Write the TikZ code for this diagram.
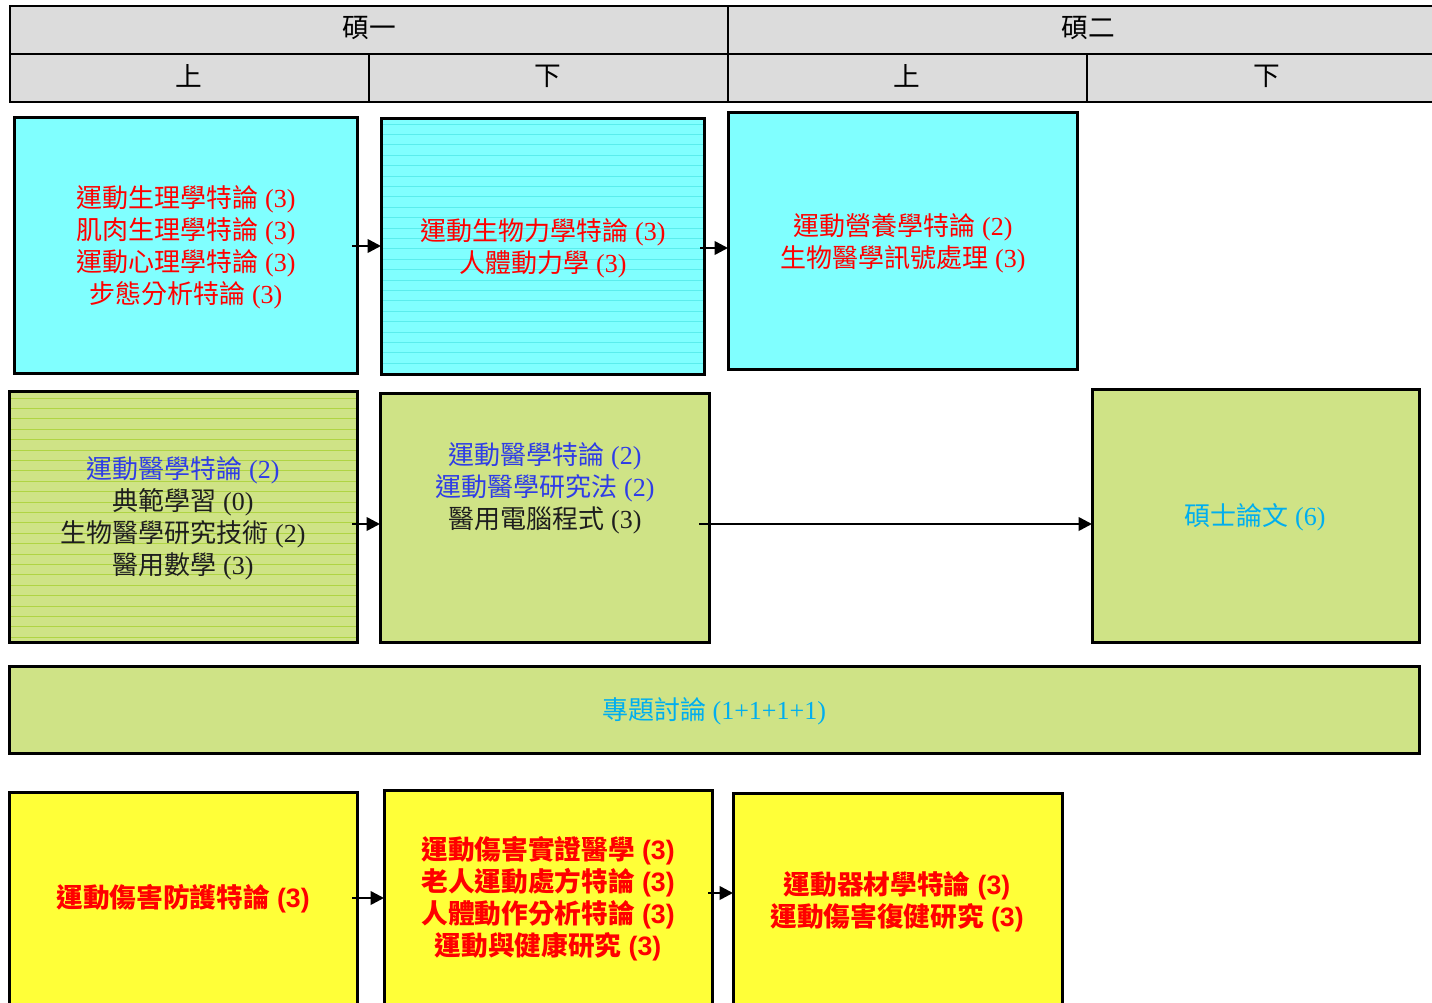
\documentclass[tikz,border=0pt]{standalone}
\usepackage{fontspec}
\setmainfont{Liberation Serif}
\newfontfamily\cjk{Noto Sans CJK TC}
\newfontfamily\lsans{Liberation Sans}
\usetikzlibrary{arrows.meta,fit}
\definecolor{hdr}{HTML}{DCDCDC}
\definecolor{cyanf}{HTML}{80FFFF}
\definecolor{cyanl}{HTML}{5AEDED}
\definecolor{greenf}{HTML}{CFE386}
\definecolor{greenl}{HTML}{B0D444}
\definecolor{yellf}{HTML}{FFFF38}
\definecolor{redt}{HTML}{FF0000}
\definecolor{bluet}{HTML}{2F3DE6}
\definecolor{blackt}{HTML}{1E1E1E}
\definecolor{cyant}{HTML}{00AEEF}
\begin{document}
\begin{tikzpicture}[x=0.75pt,y=-0.75pt,
  hcell/.style={draw, line width=1.5pt, fill=hdr, inner sep=0pt},
  htxt/.style={font=\fontsize{20}{24}\selectfont\cjk, text=black},
  box/.style={draw, line width=2.25pt, inner sep=0pt, outer sep=0pt},
  txt/.style={align=center, font=\fontsize{19.5}{24}\selectfont},
  btxt/.style={align=center, font=\fontsize{20}{24}\selectfont\lsans\bfseries, text=redt},
  arr/.style={line width=1.9pt, -{Triangle[length=10pt,width=10pt]}},
]
\useasboundingbox (0,0) rectangle (1432,1003);
\clip (0,0) rectangle (1432,1003);

% header
\node[hcell, fit={(10,6)(728,54)}] (h1) {};
\node[hcell, fit={(728,6)(1440,54)}] (h2) {};
\node[hcell, fit={(10,54)(369,102)}] (h11) {};
\node[hcell, fit={(369,54)(728,102)}] (h12) {};
\node[hcell, fit={(728,54)(1087,102)}] (h21) {};
\node[hcell, fit={(1087,54)(1440,102)}] (h22) {};
\node[htxt] (h1t) at (369,28) {碩一};
\node[htxt] (h2t) at (1088,28) {碩二};
\node[htxt] (h11t) at (189,76) {上};
\node[htxt] (h12t) at (548,76) {下};
\node[htxt] (h21t) at (907,76) {上};
\node[htxt] (h22t) at (1267,76) {下};

% cyan row
\node[box, fill=cyanf, fit={(14,117)(357,373)}] (a1) {};
\node[box, fill=cyanf, fit={(381,118)(704,374)}] (a2) {};
\begin{scope}
\clip (a2.south west) rectangle (a2.north east);
\foreach \yy in {124,134.4,...,372} \draw[cyanl, line width=0.6pt] (381,\yy) -- (704,\yy);
\end{scope}
\draw[line width=2.25pt] (a2.south west) rectangle (a2.north east);
\node[box, fill=cyanf, fit={(728,112)(1077,369)}] (a3) {};

\node[txt, text=redt] (a1t) at (186,247) {{\cjk 運動生理學特論} (3)\\{\cjk 肌肉生理學特論} (3)\\{\cjk 運動心理學特論} (3)\\{\cjk 步態分析特論} (3)};
\node[txt, text=redt] (a2t) at (543,248) {{\cjk 運動生物力學特論} (3)\\{\cjk 人體動力學} (3)};
\node[txt, text=redt] (a3t) at (903,243) {{\cjk 運動營養學特論} (2)\\{\cjk 生物醫學訊號處理} (3)};

% green row
\node[box, fill=greenf, fit={(9,391)(357,642)}] (b1) {};
\begin{scope}
\clip (b1.south west) rectangle (b1.north east);
\foreach \yy in {398,408.4,...,642} \draw[greenl, line width=0.6pt] (9,\yy) -- (357,\yy);
\end{scope}
\draw[line width=2.25pt] (b1.south west) rectangle (b1.north east);
\node[box, fill=greenf, fit={(380,393)(709,642)}] (b2) {};
\node[box, fill=greenf, fit={(1092,389)(1419,642)}] (b4) {};

\node[txt, text=blackt] (b1t) at (183,518) {\textcolor{bluet}{{\cjk 運動醫學特論} (2)}\\{\cjk 典範學習} (0)\\{\cjk 生物醫學研究技術} (2)\\{\cjk 醫用數學} (3)};
\node[txt, text=blackt] (b2t) at (545,488) {\textcolor{bluet}{{\cjk 運動醫學特論} (2)}\\\textcolor{bluet}{{\cjk 運動醫學研究法} (2)}\\{\cjk 醫用電腦程式} (3)};
\node[txt, text=cyant] (b4t) at (1255,517) {{\cjk 碩士論文} (6)};

% banner
\node[box, fill=greenf, fit={(9,666)(1419,753)}] (c) {};
\node[txt, text=cyant] (ct) at (714,711) {{\cjk 專題討論} (1+1+1+1)};

% yellow row
\node[box, fill=yellf, fit={(9,792)(357,1012)}] (d1) {};
\node[box, fill=yellf, fit={(384,790)(712,1012)}] (d2) {};
\node[box, fill=yellf, fit={(733,793)(1062,1012)}] (d3) {};

\node[btxt] (d1t) at (183,899) {{\cjk 運動傷害防護特論} (3)};
\node[btxt] (d2t) at (548,899) {{\cjk 運動傷害實證醫學} (3)\\{\cjk 老人運動處方特論} (3)\\{\cjk 人體動作分析特論} (3)\\{\cjk 運動與健康研究} (3)};
\node[btxt] (d3t) at (897,902) {{\cjk 運動器材學特論} (3)\\{\cjk 運動傷害復健研究} (3)};

% arrows
\coordinate (pa1) at (352,246);
\coordinate (pa2) at (700,248);
\coordinate (pb1) at (352,524);
\coordinate (pb2) at (699,524);
\coordinate (pd1) at (352,898);
\coordinate (pd2) at (708,893);
\draw[arr] (pa1) -- (a2.west |- pa1);
\draw[arr] (pa2) -- (a3.west |- pa2);
\draw[arr] (pb1) -- (b2.west |- pb1);
\draw[arr] (pb2) -- (b4.west |- pb2);
\draw[arr] (pd1) -- (d2.west |- pd1);
\draw[arr] (pd2) -- (d3.west |- pd2);
\end{tikzpicture}
\end{document}
